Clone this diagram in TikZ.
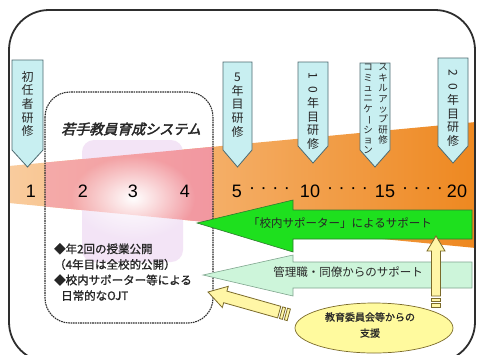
\documentclass[tikz,border=0pt]{standalone}
\usepackage{fontspec}
\newfontfamily\jp{Noto Sans CJK JP}
\newfontfamily\jpb[FakeBold=1.2]{Noto Sans CJK JP}
\newfontfamily\jpt[FakeSlant=0.25,FakeBold=2.5]{Noto Sans CJK JP}
\newfontfamily\num{Liberation Sans}
\usetikzlibrary{shapes.geometric,fadings}
\tikzfading[name=glowfade, inner color=transparent!0, outer color=transparent!100]
\definecolor{frameC}{HTML}{2E2E2E}
\definecolor{bandL}{HTML}{F9CC9E}
\definecolor{bandR}{HTML}{EE8820}
\definecolor{pinkL}{HTML}{F4AAA8}
\definecolor{pinkR}{HTML}{F297A0}
\definecolor{lav}{HTML}{F3E4F6}
\definecolor{tagF}{HTML}{C8EFF1}
\definecolor{tagD}{HTML}{4D6A70}
\definecolor{grn}{HTML}{1EE01E}
\definecolor{grnD}{HTML}{2E7A2E}
\definecolor{lgrn}{HTML}{CDF5DA}
\definecolor{lgrnD}{HTML}{7FA58E}
\definecolor{yelF}{HTML}{FFF6A6}
\definecolor{yelD}{HTML}{7A6A2A}
\definecolor{ellF}{HTML}{FFFA9E}
\definecolor{txt}{HTML}{262626}
\tikzset{
  tagbox/.style={fill=tagF, draw=tagD, line width=0.8pt},
  tagtxt/.style={font=\jp\fontsize{12}{13.6}\selectfont, align=center, inner sep=0pt, text=txt},
  smalltag/.style={font=\jp\fontsize{9.5}{10.4}\selectfont, align=center, inner sep=0pt, text=txt},
  bignum/.style={font=\num\fontsize{18}{20}\selectfont, inner sep=0pt, text=black},
  arrowtxt/.style={font=\jp\fontsize{11.5}{13}\selectfont, inner sep=0pt, text=txt},
  yelarrow/.style={fill=yelF, draw=yelD, line width=0.8pt},
}
\newcommand\tagshape[4]{%
  \path[tagbox] (#1,#3) -- (#2,#3) -- (#2,#4-17) -- ({(#1+#2)/2},#4) -- (#1,#4-17) -- cycle;}
\newcommand\rd[1]{\rotatebox[origin=c]{-90}{#1}}
\begin{document}
\begin{tikzpicture}[x=1pt,y=-1pt]
\useasboundingbox (0,0) rectangle (478,354);
\clip (0,0) rectangle (478,354);
\fill[white] (0,0) rectangle (478,354);

% orange band
\begin{scope}
  \clip[rounded corners=40pt] (9,10) rectangle (475,362);
  \shade[left color=bandL, right color=bandR] (9,166) -- (476,122) -- (476,248) -- (9,203) -- cycle;
\end{scope}

% lavender panel
\fill[lav, rounded corners=12pt] (82,140) rectangle (183,262);

% pink band inside system box
\begin{scope}
  \clip[rounded corners=25pt] (45,92) rectangle (213,323);
  \shade[left color=pinkL, right color=pinkR] (45,162.6) -- (213,146.8) -- (213,222.7) -- (45,206.5) -- cycle;
  \fill[white, path fading=glowfade] (133,198) ellipse [x radius=62, y radius=42];
\end{scope}

% system box
\draw[frameC, line width=1.1pt, dash pattern=on 1.6pt off 0.8pt, rounded corners=25pt] (45,92) rectangle (213,323);
\node[font=\jpt\fontsize{14}{16}\selectfont, text=txt, inner sep=0pt] (title) at (131,129) {若手教員育成システム};

% tags
\tagshape{12}{43}{60}{167}
\node[tagtxt] (t1) at (27.5,104) {初\\任\\者\\研\\修};
\tagshape{223}{252}{62}{167}
\node[tagtxt] (t5) at (237.5,105) {5\\年\\目\\研\\修};
\tagshape{298}{328}{62}{163}
\node[tagtxt] (t10) at (313,111) {\rd{1}\\\rd{0}\\年\\目\\研\\修};
\tagshape{360}{390}{63}{167}
\node[smalltag, anchor=north] (tsk) at (383,64) {ス\\キ\\ル\\ア\\ッ\\プ\\研\\修};
\node[smalltag, anchor=north] (tcm) at (368,64) {コ\\ミ\\ュ\\ニ\\ケ\\\rd{ー}\\シ\\ョ\\ン};
\tagshape{438}{468}{58}{163}
\node[tagtxt] (t20) at (453,108) {\rd{2}\\\rd{0}\\年\\目\\研\\修};

% numbers
\node[bignum] (n1) at (31,191) {1};
\node[bignum] (n2) at (83,191) {2};
\node[bignum] (n3) at (133,191) {3};
\node[bignum] (n4) at (185,191) {4};
\node[bignum] (n5) at (237,191) {5};
\node[bignum] (n10) at (310,191) {10};
\node[bignum] (n15) at (385,191) {15};
\node[bignum] (n20) at (457,191) {20};
\node[bignum] (d1) at (269.5,191) {·\hspace{5.6pt}·\hspace{5.6pt}·\hspace{5.6pt}·};
\node[bignum] (d2) at (347.5,191) {·\hspace{5.6pt}·\hspace{5.6pt}·\hspace{5.6pt}·};
\node[bignum] (d3) at (422.5,191) {·\hspace{5.6pt}·\hspace{5.6pt}·\hspace{5.6pt}·};

% bullets
\node[anchor=north west, align=left, font=\jpb\fontsize{11.5}{15.6}\selectfont, inner sep=0pt, text=txt] (bul) at (54,243)
  {◆年2回の授業公開\\（4年目は全校的公開）\\◆校内サポーター等による\\\hspace{7pt}日常的なOJT};

% green arrow
\path[fill=grn, draw=grnD, line width=0.6pt] (197,223) -- (293,200) -- (293,210) -- (472,210) -- (472,239) -- (293,239) -- (293,252) -- cycle;
\node[arrowtxt] (gtxt) at (340,223) {「校内サポーター」によるサポート};

% light green arrow
\path[fill=lgrn, draw=lgrnD, line width=0.6pt] (203,275) -- (293,255) -- (293,262) -- (472,262) -- (472,288) -- (293,288) -- (293,296) -- cycle;
\node[arrowtxt] (lgtxt) at (348,272) {管理職・同僚からのサポート};

% vertical yellow arrow
\path[yelarrow] (436,236) -- (445,251) -- (440.5,251) -- (440.5,296) -- (431.5,296) -- (431.5,251) -- (427,251) -- cycle;
\path[yelarrow] (431.5,298) rectangle (440.5,301.5);
\path[yelarrow] (431.5,303.5) rectangle (440.5,307);

% diagonal yellow arrow
\path[yelarrow] (208,292) -- (228.3,286.3) -- (226.9,291.1) -- (280.8,306.3) -- (277.6,317.9) -- (223.7,302.7) -- (222.3,307.5) -- cycle;
\path[yelarrow] (279.5,318.5) -- (282.4,319.3) -- (285.6,307.7) -- (282.7,306.9) -- cycle;
\path[yelarrow] (284.3,319.8) -- (287.2,320.6) -- (290.4,309.0) -- (287.5,308.2) -- cycle;

% ellipse
\node[ellipse, fill=ellF, draw=yelD, line width=0.7pt, minimum width=158pt, minimum height=50pt, inner sep=0pt] (edu) at (374,328) {};
\node[align=center, font=\jpb\fontsize{10}{16}\selectfont, text=txt, inner sep=0pt] (edutxt) at (370,325) {教育委員会等からの\\支援};

% outer frame
\draw[frameC, line width=1.8pt, rounded corners=40pt] (9,10) rectangle (475,362);
\end{tikzpicture}
\end{document}
